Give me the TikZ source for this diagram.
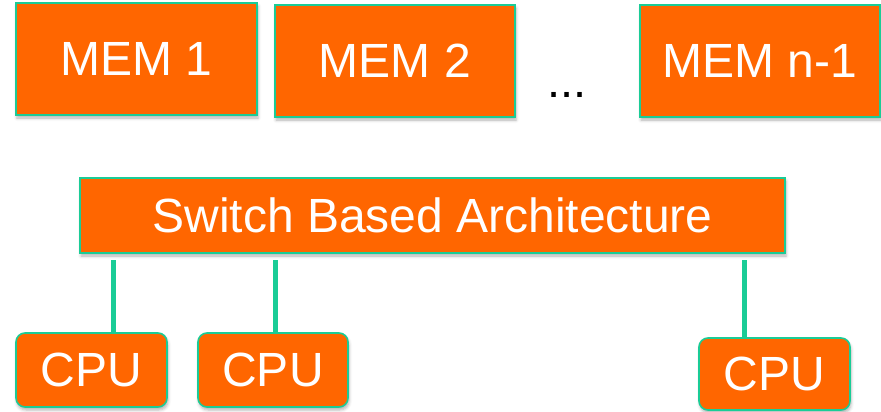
\documentclass[tikz,border=0pt]{standalone}
\usepackage{fontspec}
\setmainfont{Liberation Sans}
\usetikzlibrary{shadows.blur}
\definecolor{boxorange}{RGB}{255,102,0}
\definecolor{linkteal}{RGB}{26,204,150}
\tikzset{
  unitbox/.style={draw=linkteal, line width=1.6pt, fill=boxorange, text=white,
    inner sep=0pt, font=\fontsize{48}{52}\selectfont,
    blur shadow={shadow xshift=1pt, shadow yshift=-3pt, shadow blur radius=3pt, shadow opacity=30}},
  cpubox/.style={unitbox, rounded corners=9pt},
  link/.style={draw=linkteal, line width=5pt}
}
\begin{document}
\begin{tikzpicture}[x=1pt, y=-1pt]
  \useasboundingbox (0,0) rectangle (881,412);
  % memory modules
  \node[unitbox, minimum width=241pt, minimum height=112pt] (mem1) at (136.5,59) {MEM 1};
  \node[unitbox, minimum width=240pt, minimum height=112pt] (mem2) at (395,61) {MEM 2};
  \node[unitbox, minimum width=240pt, minimum height=112pt] (memn) at (760,61) {MEM n-1};
  \node[inner sep=0pt, anchor=base, font=\fontsize{47}{50}\selectfont] (dots) at (567,97) {...};
  % interconnect
  \node[unitbox, minimum width=705pt, minimum height=75pt] (sw) at (432.5,215.5) {Switch Based Architecture};
  % processors
  \node[cpubox, minimum width=151pt, minimum height=74pt] (cpu1) at (91.5,370) {CPU};
  \node[cpubox, minimum width=150pt, minimum height=74pt] (cpu2) at (273,370) {CPU};
  \node[cpubox, minimum width=151pt, minimum height=72pt] (cpu3) at (774.5,374) {CPU};
  % port stubs below the switch
  \coordinate (p1) at (113,260);
  \coordinate (p2) at (275,260);
  \coordinate (p3) at (744,260);
  \draw[link] (p1) -- (p1 |- cpu1.north);
  \draw[link] (p2) -- (p2 |- cpu2.north);
  \draw[link] (p3) -- (p3 |- cpu3.north);
\end{tikzpicture}
\end{document}
